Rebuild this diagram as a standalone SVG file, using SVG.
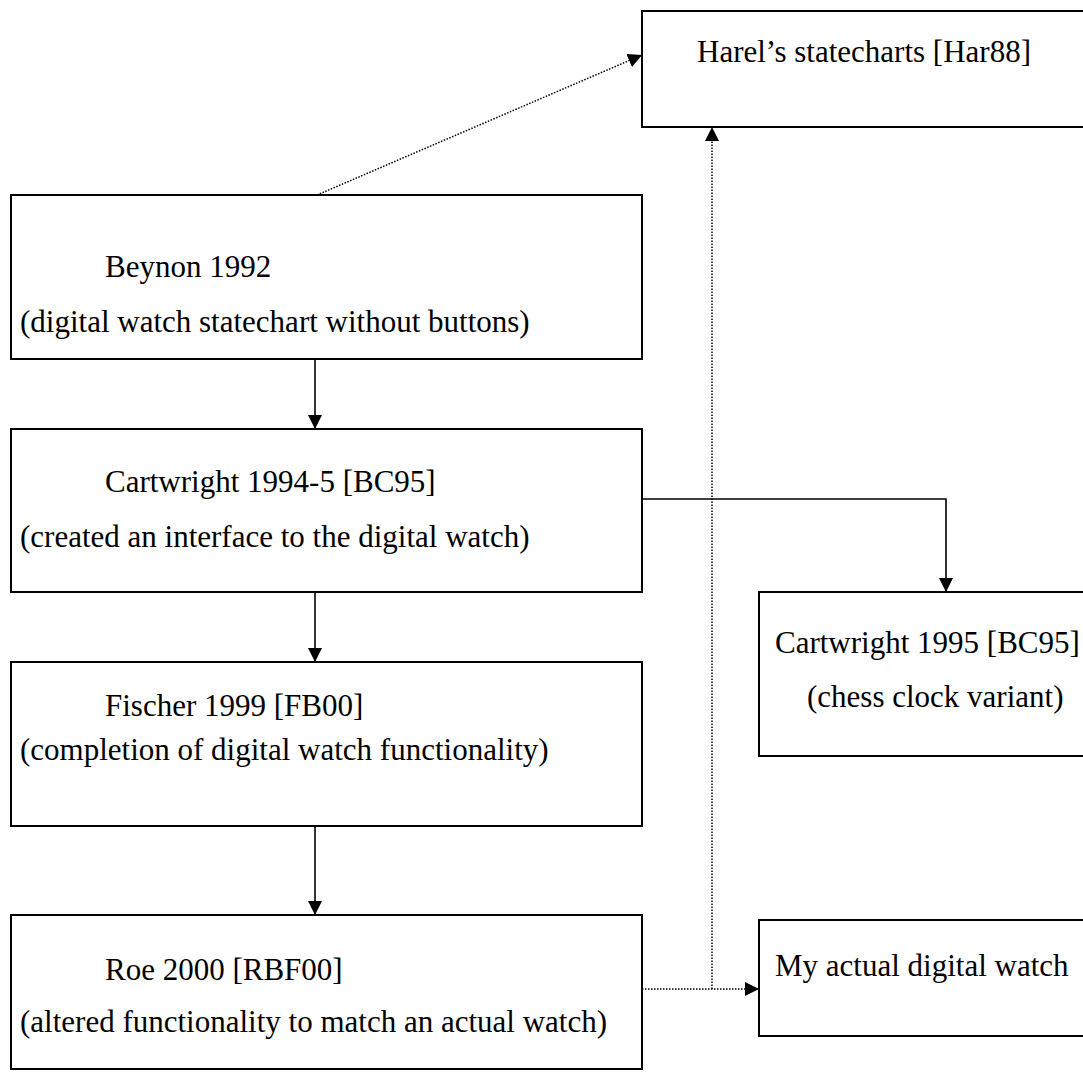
<svg xmlns="http://www.w3.org/2000/svg" width="1083" height="1072" viewBox="0 0 1083 1072">
<style>
.box{fill:#fff;stroke:#000;stroke-width:2}
.t{font-family:"Liberation Serif","Times New Roman",serif;font-size:31px;fill:#000}
.solid{fill:none;stroke:#000;stroke-width:1.6}
.dot{fill:none;stroke:#000;stroke-width:1.5;stroke-dasharray:1.5 1.5}
</style>
<defs>
<marker id="ah" markerUnits="userSpaceOnUse" markerWidth="16" markerHeight="16" viewBox="0 0 16 16" refX="14" refY="7.5" orient="auto">
<path d="M0,0.5 L14,7.5 L0,14.5 z" fill="#000"/>
</marker>
</defs>
<rect width="1083" height="1072" fill="#fff"/>
<g id="harel">
<rect class="box" x="642" y="11" width="460" height="116"/>
<text class="t" x="697" y="62">Harel’s statecharts [Har88]</text>
</g>
<g id="beynon">
<rect class="box" x="11" y="195" width="631" height="164"/>
<text class="t" x="105" y="277">Beynon 1992</text>
<text class="t" x="20" y="332">(digital watch statechart without buttons)</text>
</g>
<g id="cartwright1994">
<rect class="box" x="11" y="429" width="631" height="163"/>
<text class="t" x="105" y="492">Cartwright 1994-5 [BC95]</text>
<text class="t" x="20" y="547">(created an interface to the digital watch)</text>
</g>
<g id="fischer">
<rect class="box" x="11" y="662" width="631" height="164"/>
<text class="t" x="105" y="716">Fischer 1999 [FB00]</text>
<text class="t" x="20" y="760">(completion of digital watch functionality)</text>
</g>
<g id="roe">
<rect class="box" x="11" y="915" width="631" height="154"/>
<text class="t" x="105" y="980">Roe 2000 [RBF00]</text>
<text class="t" x="20" y="1032">(altered functionality to match an actual watch)</text>
</g>
<g id="cartwright1995">
<rect class="box" x="759" y="592" width="340" height="164"/>
<text class="t" x="775" y="653">Cartwright 1995 [BC95]</text>
<text class="t" x="807" y="707">(chess clock variant)</text>
</g>
<g id="actual">
<rect class="box" x="759" y="920" width="340" height="116"/>
<text class="t" x="775" y="976">My actual digital watch</text>
</g>
<g id="connectors">
<line class="solid" x1="315" y1="359" x2="315" y2="429" marker-end="url(#ah)"/>
<line class="solid" x1="315" y1="592" x2="315" y2="662" marker-end="url(#ah)"/>
<line class="solid" x1="315" y1="826" x2="315" y2="915" marker-end="url(#ah)"/>
<polyline class="solid" points="642,499 946,499 946,592" marker-end="url(#ah)"/>
<line class="dot" x1="317" y1="195" x2="642" y2="55" marker-end="url(#ah)"/>
<line class="dot" x1="642" y1="989" x2="759" y2="989" marker-end="url(#ah)"/>
<line class="dot" x1="712" y1="989" x2="712" y2="127" marker-end="url(#ah)"/>
</g>
</svg>
